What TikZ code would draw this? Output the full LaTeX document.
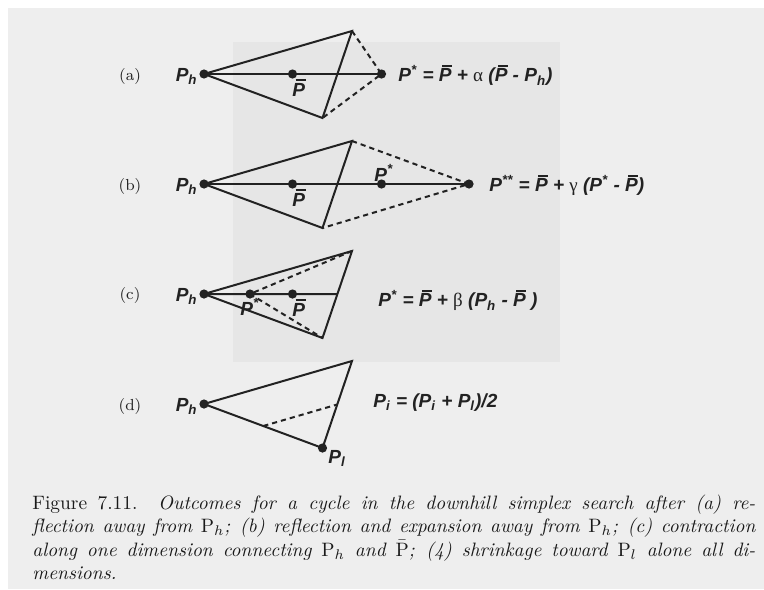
\documentclass[tikz,border=0pt]{standalone}
\usepackage{fontspec}
\newfontfamily\lab{Liberation Sans}
\newfontfamily\grk{Liberation Serif}
\usetikzlibrary{calc}
\definecolor{ink}{HTML}{222222}
\definecolor{bgg}{HTML}{EEEEEE}
\definecolor{bgd}{HTML}{E6E6E6}
\newcommand\PB{\rlap{\kern0.17em\rule[0.8em]{0.52em}{0.09em}}P}
\newcommand\psup[1]{\textsuperscript{#1}}
\newcommand\psub[1]{\textsubscript{#1}}
\newcommand\gk[1]{{\grk\mdseries\upshape #1}}
\tikzset{
  edge/.style={draw=ink, line width=1pt},
  dashedge/.style={draw=ink, line width=1pt, dash pattern=on 2.6pt off 2pt},
  dot/.style={circle, fill=ink, inner sep=0pt, minimum size=4.6pt},
  lbl/.style={font=\lab\bfseries\itshape\fontsize{9.5}{11}\selectfont, inner sep=0pt, text=ink},
  panel/.style={font=\fontsize{8}{9.6}\selectfont, inner sep=0pt, text=ink},
  capline/.style={font=\fontsize{9.7}{11.6}\selectfont, inner sep=0pt, anchor=base west, text=black!90}
}
\begin{document}
\begin{tikzpicture}[x=0.5pt,y=-0.5pt]
\useasboundingbox (0,0) rectangle (764,589);
\fill[white] (0,0) rectangle (764,589);
\fill[bgg] (8,8) rectangle (764,589);
\fill[bgd] (233,42) rectangle (560,362);

% ---------- (a) ----------
\coordinate (aph) at (204,74);
\coordinate (apb) at (292.5,74);
\coordinate (aps) at (381.5,74);
\coordinate (at) at (352,31);
\coordinate (ab) at (322.5,118);
\draw[edge] (aph) -- (at) -- (ab) -- cycle;
\draw[edge] (aph) -- (aps);
\draw[dashedge] (at) -- (aps) -- (ab);
\node[dot] (aphd) at (aph) {};
\node[dot] (apbd) at (apb) {};
\node[dot] (apsd) at (aps) {};
\node[panel, anchor=base] (la) at (130,80) {(a)};
\node[lbl, anchor=base east] (laph) at (198,81.5) {P\psub{h}};
\node[lbl, anchor=base west] (lapb) at (292,96) {\PB};
\node[lbl, anchor=base west] (fa) at (398,81.7) {P\psup{*} = \PB{} + \gk{α} (\PB{} - P\psub{h})};

% ---------- (b) ----------
\coordinate (bph) at (204,184);
\coordinate (bpb) at (292.5,184);
\coordinate (bps) at (381.5,184);
\coordinate (bpss) at (469,184);
\coordinate (bt) at (352,141);
\coordinate (bb) at (322.5,228);
\draw[edge] (bph) -- (bt) -- (bb) -- cycle;
\draw[edge] (bph) -- (bpss);
\draw[dashedge] (bt) -- (bpss) -- (bb);
\node[dot] (bphd) at (bph) {};
\node[dot] (bpbd) at (bpb) {};
\node[dot] (bpsd) at (bps) {};
\node[dot] (bpssd) at (bpss) {};
\node[panel, anchor=base] (lb) at (130,190) {(b)};
\node[lbl, anchor=base east] (lbph) at (198,191.5) {P\psub{h}};
\node[lbl, anchor=base west] (lbpb) at (292,206) {\PB};
\node[lbl, anchor=base west] (lbps) at (374,181) {P\psup{*}};
\node[lbl, anchor=base west] (fb) at (489,191.7) {P\psup{**} = \PB{} + \gk{γ} (P\psup{*} - \PB)};

% ---------- (c) ----------
\coordinate (cph) at (204,294);
\coordinate (cps) at (250,294);
\coordinate (cpb) at (292.5,294);
\coordinate (ct) at (352,251);
\coordinate (cb) at (322.5,338);
\coordinate (cm) at (intersection of cph--cpb and ct--cb);
\draw[edge] (cph) -- (ct) -- (cb) -- cycle;
\draw[edge] (cph) -- (cm);
\draw[dashedge] (ct) -- (cps) -- (cb);
\node[dot] (cphd) at (cph) {};
\node[dot] (cpsd) at (cps) {};
\node[dot] (cpbd) at (cpb) {};
\node[panel, anchor=base] (lc) at (130,299) {(c)};
\node[lbl, anchor=base east] (lcph) at (198,301.5) {P\psub{h}};
\node[lbl, anchor=base west] (lcpb) at (292,316) {\PB};
\node[lbl, anchor=base west] (lcps) at (240,315.5) {P\psup{*}};
\node[lbl, anchor=base west] (fc) at (378,306.7) {P\psup{*} = \PB{} + \gk{β} (P\psub{h} - \PB{} )};

% ---------- (d) ----------
\coordinate (dph) at (204,404);
\coordinate (dt) at (352,361);
\coordinate (dpl) at (322.5,448);
\coordinate (dm1) at ($(dph)!0.5!(dpl)$);
\coordinate (dm2) at ($(dt)!0.5!(dpl)$);
\draw[edge] (dph) -- (dt) -- (dpl) -- cycle;
\draw[dashedge] (dm1) -- (dm2);
\node[dot] (dphd) at (dph) {};
\node[dot] (dpld) at (dpl) {};
\node[panel, anchor=base] (ld) at (130,410) {(d)};
\node[lbl, anchor=base east] (ldph) at (198,411.5) {P\psub{h}};
\node[lbl, anchor=base west] (ldpl) at (328,463) {P\psub{l}};
\node[lbl, anchor=base west] (fd) at (373,407.3) {P\psub{i} = (P\psub{i} + P\psub{l})/2};

% ---------- caption ----------
\node[capline] (cap1) at (32,509) {\makebox[361.5pt][s]{Figure 7.11. \textit{Outcomes for a cycle in the downhill simplex search after (a) re-}}};
\node[capline] (cap2) at (32,532.5) {\makebox[361.5pt][s]{\itshape flection away from $\mathrm{P}_h$; (b) reflection and expansion away from $\mathrm{P}_h$; (c) contraction}};
\node[capline] (cap3) at (32,556) {\makebox[361.5pt][s]{\itshape along one dimension connecting $\mathrm{P}_h$ and $\smash{\bar{\mathrm{P}}}$; (4) shrinkage toward $\mathrm{P}_l$ alone all di-}};
\node[capline] (cap4) at (32,579.5) {\itshape mensions.};
\end{tikzpicture}
\end{document}
